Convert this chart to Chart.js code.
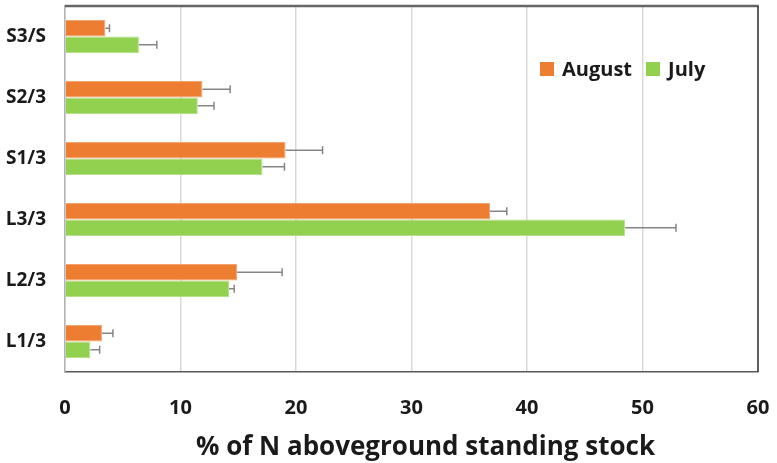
<!DOCTYPE html>
<html>
<head>
<meta charset="utf-8">
<script src="https://cdn.jsdelivr.net/npm/chart.js@4.4.1/dist/chart.umd.min.js"></script>
<style>
  html, body { margin: 0; padding: 0; background: #ffffff; }
  #wrap { width: 777px; height: 463px; position: relative; }
</style>
</head>
<body>
<div id="wrap"><canvas id="chart"></canvas></div>
<script>
// Treatment groups, listed top to bottom
const categories = ['S3/S', 'S2/3', 'S1/3', 'L3/3', 'L2/3', 'L1/3'];

// % of N aboveground standing stock, with upper error (SE)
const augustValues = [3.5, 11.9, 19.1, 36.8, 14.9, 3.2];
const augustErrors = [0.35, 2.4, 3.2, 1.45, 3.9, 0.95];
const julyValues   = [6.4, 11.5, 17.1, 48.5, 14.2, 2.2];
const julyErrors   = [1.55, 1.4, 1.9, 4.4, 0.45, 0.8];

const xTicks = [0, 10, 20, 30, 40, 50, 60];
const xTitle = '% of N aboveground standing stock';

const FONT = '"Open Sans"';
const TEXT = '#1a1a1a';

// Positive-only error bars with a vertical cap
const errorBars = {
  id: 'errorBars',
  afterDatasetsDraw(chart) {
    const ctx = chart.ctx;
    const xs = chart.scales.x;
    ctx.save();
    ctx.strokeStyle = '#858585';
    ctx.lineWidth = 1.5;
    chart.data.datasets.forEach((ds, i) => {
      const meta = chart.getDatasetMeta(i);
      meta.data.forEach((bar, j) => {
        const v = ds.data[j];
        const e = ds.errors[j];
        const x0 = xs.getPixelForValue(v);
        const x1 = xs.getPixelForValue(v + e);
        const y = bar.y;
        ctx.beginPath();
        ctx.moveTo(x0, y);
        ctx.lineTo(x1, y);
        ctx.moveTo(x1, y - 4);
        ctx.lineTo(x1, y + 4);
        ctx.stroke();
      });
    });
    ctx.restore();
  }
};

// Top and right edges of the plot frame, plus the axis title
const plotFrame = {
  id: 'plotFrame',
  afterDraw(chart, args, opts) {
    const { ctx, chartArea: a } = chart;
    ctx.save();
    ctx.strokeStyle = '#666666';
    ctx.lineWidth = 2.5;
    ctx.beginPath();
    ctx.moveTo(a.left, a.top);
    ctx.lineTo(a.right + 0.75, a.top);
    ctx.stroke();
    ctx.strokeStyle = '#333333';
    ctx.lineWidth = 1.5;
    ctx.beginPath();
    ctx.moveTo(a.right, a.top);
    ctx.lineTo(a.right, a.bottom);
    ctx.stroke();

    ctx.fillStyle = TEXT;
    ctx.font = 'bold 26px ' + FONT;
    ctx.textAlign = 'center';
    ctx.textBaseline = 'alphabetic';
    ctx.fillText(xTitle, (a.left + a.right) / 2 + opts.titleShift, opts.titleBaseline);
    ctx.restore();
  }
};

// Legend placed inside the plot area
const innerLegend = {
  id: 'innerLegend',
  afterDraw(chart, args, opts) {
    const ctx = chart.ctx;
    ctx.save();
    ctx.font = 'bold 20px ' + FONT;
    ctx.textBaseline = 'middle';
    ctx.textAlign = 'left';
    let x = opts.x;
    const y = opts.y;
    chart.data.datasets.forEach((ds) => {
      ctx.fillStyle = ds.backgroundColor;
      ctx.fillRect(x, y - 7, 14, 14);
      ctx.fillStyle = TEXT;
      ctx.fillText(ds.label, x + 22, y + 1);
      x += 22 + ctx.measureText(ds.label).width + 14;
    });
    ctx.restore();
  }
};

new Chart(document.getElementById('chart'), {
  type: 'bar',
  data: {
    labels: categories,
    datasets: [
      {
        label: 'August',
        data: augustValues,
        errors: augustErrors,
        backgroundColor: '#ED7D31',
        borderColor: '#F3A372',
        borderWidth: 1,
        borderSkipped: 'start'
      },
      {
        label: 'July',
        data: julyValues,
        errors: julyErrors,
        backgroundColor: '#92D050',
        borderColor: '#B5E08A',
        borderWidth: 1,
        borderSkipped: 'start'
      }
    ]
  },
  options: {
    indexAxis: 'y',
    responsive: true,
    maintainAspectRatio: false,
    animation: false,
    layout: { padding: { top: 6, right: 19, left: 0, bottom: 0 } },
    categoryPercentage: 0.54,
    barPercentage: 1.0,
    plugins: {
      legend: { display: false },
      tooltip: { enabled: false },
      innerLegend: { x: 540, y: 69 },
      plotFrame: { titleShift: 14, titleBaseline: 455 }
    },
    scales: {
      x: {
        min: 0,
        max: 60,
        afterBuildTicks(scale) { scale.ticks = xTicks.map(v => ({ value: v })); },
        afterFit(scale) {
          scale.height = 91;
          scale.paddingLeft = 0;
          scale.paddingRight = 0;
        },
        grid: { color: '#d9d9d9', lineWidth: 1.5, drawTicks: false },
        border: { display: true, color: '#595959', width: 1.5 },
        ticks: {
          padding: 24,
          color: TEXT,
          font: { family: FONT, size: 20, weight: 'bold' }
        }
      },
      y: {
        afterFit(scale) {
          scale.width = 65;
          scale.paddingTop = 0;
          scale.paddingBottom = 0;
        },
        grid: { display: false, drawTicks: false },
        border: { display: true, color: '#b3b3b3', width: 1.5 },
        ticks: {
          padding: 19,
          color: TEXT,
          font: { family: FONT, size: 19, weight: 'bold' }
        }
      }
    }
  },
  plugins: [errorBars, plotFrame, innerLegend]
});
</script>
</body>
</html>
